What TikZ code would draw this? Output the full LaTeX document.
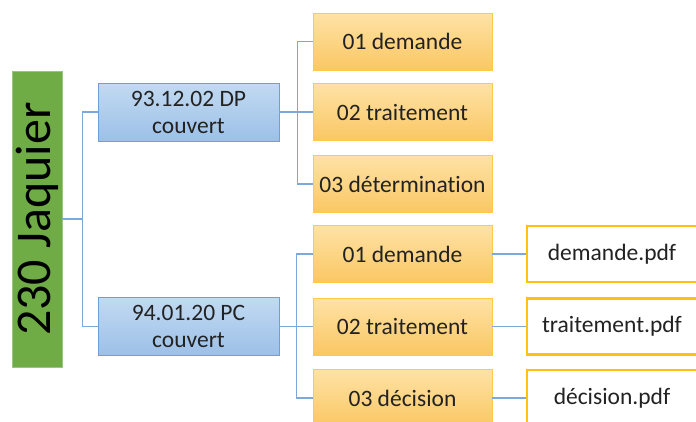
\documentclass[tikz,border=0pt]{standalone}
\usepackage{fontspec}
\setmainfont[Ligatures=NoCommon]{Carlito}
\definecolor{rootgreen}{HTML}{6FAC46}
\definecolor{linkblue}{HTML}{7FA8DA}
\definecolor{dirborder}{HTML}{6E9FD8}
\definecolor{dirtop}{HTML}{C2DAF1}
\definecolor{dirbottom}{HTML}{9CC0E8}
\definecolor{steptop}{HTML}{FFE2A6}
\definecolor{stepbottom}{HTML}{FAC763}
\definecolor{stepborder}{HTML}{FFCB45}
\definecolor{fileborder}{HTML}{FFC20E}
\definecolor{inktext}{HTML}{222222}

\begin{document}
\begin{tikzpicture}
[x=1pt,y=-1pt,
  linkdecorate/.style={draw=linkblue,line width=1.4pt},%
  rootdecorate/.style={fill=rootgreen,draw=rootgreen!70!white,line width=0.6pt,
    rotate=90,minimum width=296pt,minimum height=50pt,inner sep=0pt,
    font=\fontsize{50}{54}\selectfont,text=black},%
  dirdecorate/.style={draw=dirborder,line width=0.8pt,top color=dirtop,
    bottom color=dirbottom,minimum width=181pt,minimum height=58pt,
    inner sep=0pt,align=center,font=\fontsize{23.5}{27}\selectfont,text=inktext},%
  stepdecorate/.style={draw=stepborder,line width=0.8pt,top color=steptop,
    bottom color=stepbottom,minimum width=179pt,minimum height=57pt,
    inner sep=0pt,font=\fontsize{23.5}{26}\selectfont,text=inktext},%
  filedecorate/.style={draw=fileborder,line width=2.6pt,fill=white,minimum width=170pt,
    minimum height=56pt,inner sep=0pt,font=\fontsize{23.5}{26}\selectfont,text=inktext}]
%%
\useasboundingbox (0,0) rectangle (696,421);
\clip (0,0) rectangle (696,421);
%%
%% Root
\node (root) at (37,219) [rootdecorate] {230 Jaquier};
%% Folders
\node (dp) at (188.5,112) [dirdecorate] {93.12.02 DP\\couvert};
\node (pc) at (188.5,326.5) [dirdecorate] {94.01.20 PC\\couvert};
%% Steps and files
\foreach \nodename/\y/\txt in {
  dpa/41.5/01 demande, dpb/112/02 traitement, dpc/184/03 détermination,
  pca/254/01 demande, pcb/326.5/02 traitement, pcc/398/03 décision}
{
  \node (\nodename) at (402.5,\y) [stepdecorate] {\txt};
}
\foreach \nodename/\y/\txt in {
  fa/254/demande.pdf, fb/326.5/traitement.pdf, fc/398/décision.pdf}
{
  \node (\nodename) at (612,\y) [filedecorate] {\txt};
}
%%
%% Links
\foreach \endnode in {dp, pc} {
  \draw[linkdecorate] (root.south) -- ++(20,0) |- (\endnode.west);
}
\foreach \endnode in {dpa, dpb, dpc} {
  \draw[linkdecorate] (dp.east) -- ++(18,0) |- (\endnode.west);
}
\foreach \endnode in {pca, pcb, pcc} {
  \draw[linkdecorate] (pc.east) -- ++(17,0) |- (\endnode.west);
}
\foreach \startnode/\endnode in {pca/fa, pcb/fb, pcc/fc} {
  \draw[linkdecorate] (\startnode.east) -- (\endnode.west);
}
\end{tikzpicture}
\end{document}
